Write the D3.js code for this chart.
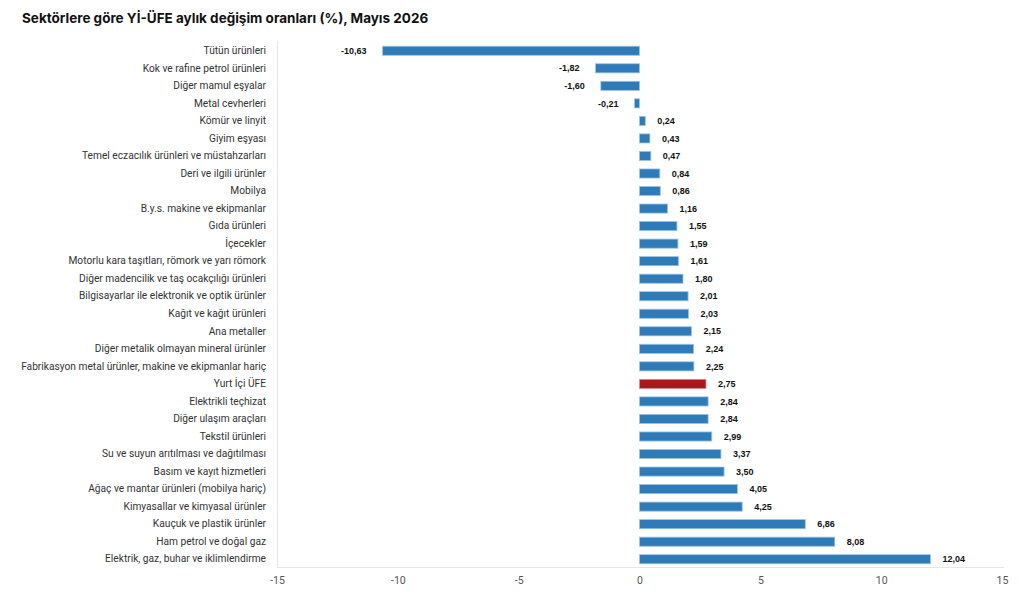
<!DOCTYPE html>
<html><head><meta charset="utf-8">
<script src="https://cdn.jsdelivr.net/npm/d3@7"></script>
<style>body{margin:0;background:#fff;font-family:Roboto,"Noto Sans",sans-serif;}</style>
</head><body><svg id="c" width="1024" height="607"></svg>
<script>
const categories = ["Tütün ürünleri","Kok ve rafine petrol ürünleri","Diğer mamul eşyalar","Metal cevherleri","Kömür ve linyit","Giyim eşyası","Temel eczacılık ürünleri ve müstahzarları","Deri ve ilgili ürünler","Mobilya","B.y.s. makine ve ekipmanlar","Gıda ürünleri","İçecekler","Motorlu kara taşıtları, römork ve yarı römork","Diğer madencilik ve taş ocakçılığı ürünleri","Bilgisayarlar ile elektronik ve optik ürünler","Kağıt ve kağıt ürünleri","Ana metaller","Diğer metalik olmayan mineral ürünler","Fabrikasyon metal ürünler, makine ve ekipmanlar hariç","Yurt İçi ÜFE","Elektrikli teçhizat","Diğer ulaşım araçları","Tekstil ürünleri","Su ve suyun arıtılması ve dağıtılması","Basım ve kayıt hizmetleri","Ağaç ve mantar ürünleri (mobilya hariç)","Kimyasallar ve kimyasal ürünler","Kauçuk ve plastik ürünler","Ham petrol ve doğal gaz","Elektrik, gaz, buhar ve iklimlendirme"];
const values = [-10.63,-1.82,-1.60,-0.21,0.24,0.43,0.47,0.84,0.86,1.16,1.55,1.59,1.61,1.80,2.01,2.03,2.15,2.24,2.25,2.75,2.84,2.84,2.99,3.37,3.50,4.05,4.25,6.86,8.08,12.04];
const highlight = ["Yurt İçi ÜFE"];
const xTicks = [-15,-10,-5,0,5,10,15];
const title = "Sektörlere göre Yİ-ÜFE aylık değişim oranları (%), Mayıs 2026";

const svg = d3.select("#c");
const x = d3.scaleLinear().domain([-15,15]).range([277,1002]);
const y = d3.scaleBand().domain(categories).range([42,568]).paddingInner(0.48).paddingOuter(0.24);
const fmt = v => v.toFixed(2).replace(".", ",");

svg.append("text").attr("x",22).attr("y",23).attr("font-size",13.5).attr("font-weight",700)
  .attr("font-family","Inter,'Noto Sans',sans-serif").attr("fill","#111").text(title);

// plot frame lines
svg.append("line").attr("x1",277.5).attr("x2",277.5).attr("y1",41).attr("y2",567).attr("stroke","#e6e6e6");
svg.append("line").attr("x1",277).attr("x2",1004).attr("y1",567.5).attr("y2",567.5).attr("stroke","#e6e6e6");

// bars
svg.append("g").selectAll("rect").data(categories).join("rect")
  .attr("x",(d,i)=>x(Math.min(0,values[i])))
  .attr("y",d=>y(d))
  .attr("width",(d,i)=>Math.abs(x(values[i])-x(0)))
  .attr("height",y.bandwidth())
  .attr("fill",d=>highlight.includes(d)?"#a8171c":"#2f7bb8")
  .attr("stroke",d=>highlight.includes(d)?"#e08a8c":"#9cc4e6")
  .attr("stroke-width",0.8);

// value labels
svg.append("g").selectAll("text").data(categories).join("text")
  .attr("x",(d,i)=>values[i]<0 ? x(values[i])-16 : x(values[i])+12)
  .attr("y",d=>y(d)+y.bandwidth()/2)
  .attr("dy","0.35em")
  .attr("text-anchor",(d,i)=>values[i]<0?"end":"start")
  .attr("font-size",9)
  .attr("font-weight",700)
  .attr("font-family","'Liberation Sans',Arial,sans-serif")
  .attr("fill","#111")
  .text((d,i)=>fmt(values[i]));

// category labels
const yAxis = d3.axisLeft(y).tickSize(0).tickPadding(11);
const gy = svg.append("g").attr("transform","translate(277,0)").call(yAxis);
gy.select(".domain").remove();
gy.selectAll("text").attr("font-size",10.2).attr("fill","#333").attr("font-family","Roboto,'Noto Sans',sans-serif");

// x axis
const xAxis = d3.axisBottom(x).tickValues(xTicks).tickSize(0).tickPadding(10).tickFormat(d=>d);
const gx = svg.append("g").attr("transform","translate(0,567)").call(xAxis);
gx.select(".domain").remove();
gx.selectAll("text").attr("font-size",10.5).attr("fill","#555").attr("font-family","Roboto,'Noto Sans',sans-serif");
</script></body></html>
